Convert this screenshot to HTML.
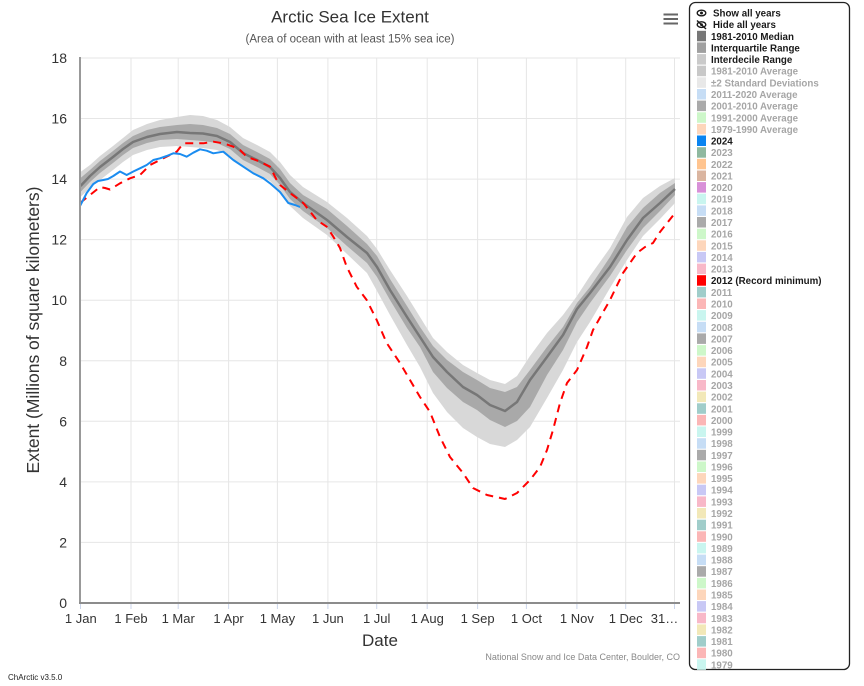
<!DOCTYPE html>
<html>
<head>
<meta charset="utf-8">
<style>
html,body{margin:0;padding:0;background:#fff;}
body{width:864px;height:686px;overflow:hidden;}
svg{display:block;font-family:"Liberation Sans",Arial,sans-serif;}
.lg{font-size:9.75px;font-weight:bold;fill:#a6a6a6;}
.lga{font-size:9.75px;font-weight:bold;fill:#1a1a1a;}
.ax{font-size:14px;fill:#333;}
.xl{font-size:13px;fill:#333;}
</style>
</head>
<body>
<svg width="864" height="686" viewBox="0 0 864 686" xmlns="http://www.w3.org/2000/svg">
<rect x="0" y="0" width="864" height="686" fill="#fff"/>

<!-- horizontal grid -->
<g stroke="#e6e6e6" stroke-width="1">
<line x1="80" y1="58" x2="680" y2="58"/>
<line x1="80" y1="118.5" x2="680" y2="118.5"/>
<line x1="80" y1="179.1" x2="680" y2="179.1"/>
<line x1="80" y1="239.6" x2="680" y2="239.6"/>
<line x1="80" y1="300.2" x2="680" y2="300.2"/>
<line x1="80" y1="360.8" x2="680" y2="360.8"/>
<line x1="80" y1="421.3" x2="680" y2="421.3"/>
<line x1="80" y1="481.9" x2="680" y2="481.9"/>
<line x1="80" y1="542.4" x2="680" y2="542.4"/>
</g>
<!-- vertical grid -->
<g stroke="#e6e6e6" stroke-width="1">
<line x1="131" y1="58" x2="131" y2="603"/>
<line x1="178.2" y1="58" x2="178.2" y2="603"/>
<line x1="228.6" y1="58" x2="228.6" y2="603"/>
<line x1="277.4" y1="58" x2="277.4" y2="603"/>
<line x1="327.9" y1="58" x2="327.9" y2="603"/>
<line x1="376.7" y1="58" x2="376.7" y2="603"/>
<line x1="427.2" y1="58" x2="427.2" y2="603"/>
<line x1="477.6" y1="58" x2="477.6" y2="603"/>
<line x1="526.4" y1="58" x2="526.4" y2="603"/>
<line x1="576.9" y1="58" x2="576.9" y2="603"/>
<line x1="625.7" y1="58" x2="625.7" y2="603"/>
<line x1="674.5" y1="58" x2="674.5" y2="603"/>
</g>

<!-- Interdecile band -->
<polygon fill="#d8d8d8" points="80.5,172 90,165 100,156 113,146 123,138 133,130 147,124 160,120 177,117 190,115 203,116 217,120 230,127 243,138 257,145 270,152 280,162 290,175 303,187 327,202 347,218 367,236 377,249 390,270 407,296 420,317 433,338 447,352 463,365 477,373 490,380 505,384 517,376 530,356 547,333 563,315 577,296 590,276 610,248 627,217 643,198 660,186 675,178 675,203 660,219 643,236 627,260 610,288 590,322 577,342 563,370 547,398 530,427 517,440 505,447 490,444 477,437 463,428 447,412 433,393 420,367 407,345 390,315 377,291 367,273 347,254 327,235 303,218 290,206 280,192 270,181 257,174 243,167 230,156 217,150 203,148 190,147 177,146 160,147 147,150 133,155 123,162 113,170 100,180 90,188 80.5,197"/>
<!-- Interquartile band -->
<polygon fill="#a9a9a9" points="80.5,178 90,170 100,161 113,151 123,143 133,136 147,130 160,127 177,125 190,124 203,125 217,128 230,134 243,145 257,152 270,159 280,169 290,183 303,195 327,209 347,226 367,244 377,256 390,279 407,306 420,327 433,346 447,360 463,372 477,380 490,388 505,392 517,387 530,370 547,347 563,327 577,303 590,287 610,257 627,227 643,208 660,193 675,183 675,195 660,211 643,228 627,250 610,276 590,303 577,322 563,350 547,375 530,407 517,421 505,427 490,420 477,410 463,402 447,388 433,372 420,347 407,328 390,300 377,277 367,263 347,246 327,228 303,211 290,199 280,185 270,174 257,167 243,160 230,149 217,143 203,141 190,140 177,139 160,140 147,143 133,148 123,155 113,163 100,173 90,182 80.5,192"/>
<!-- Median -->
<polyline fill="none" stroke="#777" stroke-width="2.5" stroke-linejoin="round" points="80.5,186 90,176 100,167 113,157 123,149 133,142 147,137 160,134 177,132 190,133 203,133.5 217,136 230,142 243,153 257,160 270,167 280,178 290,192 303,203 327,220 347,237 367,253 377,267 390,290 407,317 420,337 433,357 447,372 463,387 477,395 490,405 505,411 517,402 530,380 547,357 563,335 577,309 590,293 610,267 627,240 643,218 660,203 675,189"/>

<!-- 2012 -->
<polyline fill="none" stroke="#ff0000" stroke-width="2" stroke-dasharray="8 6" stroke-linejoin="round" points="80,203 90,195 100,187 105,188 110,189.5 120,183.3 130,178.3 140,175 150,165 160,160 170,155 176.7,151.7 183.3,143.3 193.3,143.3 203.3,143.3 213.3,141.7 223.3,143.3 233.3,146.7 240,150 246.7,156.7 260,161.7 270,166.7 276.7,180 280,185 290,193 303.3,203 316.7,220 326.7,226.7 333.3,236.7 340,248 346.7,266.7 356.7,286.7 366.7,300 376.7,320 386.7,343 400,363 410,380 420,397 430,412 440,437 450,457 463,473 473,488 487,495 505,499 517,493 530,480 540,467 547,450 553,430 560,403 567,383 577,370 587,347 593,330 610,300 623,273 637,253 645,247 653,243 660,232 675,213"/>
<!-- 2024 -->
<polyline fill="none" stroke="#1a8cf0" stroke-width="2" stroke-linejoin="round" points="80,206 86.7,193 93.3,184 98,181 103.3,180 108,179 113.3,176 120,171.5 126.7,175 133.3,171.5 140,168.3 146.7,165 153.3,160 160,158.3 166.7,156 173.3,153.3 180,154 186.7,156.7 193.3,152.7 200,149.3 206.7,150.7 213.3,153.3 223.3,151.7 233.3,160 243.3,166.7 253.3,173.3 263.3,178.3 270,183.3 280,192 288.3,203 295,205 300,207"/>

<!-- axes -->
<line x1="80" y1="57" x2="80" y2="604" stroke="#999" stroke-width="2"/>
<line x1="79" y1="603" x2="680" y2="603" stroke="#8c8c8c" stroke-width="2"/>
<g stroke="#ccd6eb" stroke-width="1">
<line x1="80.5" y1="604" x2="80.5" y2="609"/>
<line x1="131" y1="604" x2="131" y2="609"/>
<line x1="178.2" y1="604" x2="178.2" y2="609"/>
<line x1="228.6" y1="604" x2="228.6" y2="609"/>
<line x1="277.4" y1="604" x2="277.4" y2="609"/>
<line x1="327.9" y1="604" x2="327.9" y2="609"/>
<line x1="376.7" y1="604" x2="376.7" y2="609"/>
<line x1="427.2" y1="604" x2="427.2" y2="609"/>
<line x1="477.6" y1="604" x2="477.6" y2="609"/>
<line x1="526.4" y1="604" x2="526.4" y2="609"/>
<line x1="576.9" y1="604" x2="576.9" y2="609"/>
<line x1="625.7" y1="604" x2="625.7" y2="609"/>
<line x1="674.5" y1="604" x2="674.5" y2="609"/>
</g>

<!-- y labels -->
<g class="ax" text-anchor="end">
<text x="67" y="63">18</text>
<text x="67" y="123.5">16</text>
<text x="67" y="184.1">14</text>
<text x="67" y="244.6">12</text>
<text x="67" y="305.2">10</text>
<text x="67" y="365.8">8</text>
<text x="67" y="426.3">6</text>
<text x="67" y="486.9">4</text>
<text x="67" y="547.4">2</text>
<text x="67" y="608">0</text>
</g>
<!-- x labels -->
<g class="xl" text-anchor="middle">
<text x="80.8" y="623">1 Jan</text>
<text x="131" y="623">1 Feb</text>
<text x="178.2" y="623">1 Mar</text>
<text x="228.6" y="623">1 Apr</text>
<text x="277.4" y="623">1 May</text>
<text x="327.9" y="623">1 Jun</text>
<text x="376.7" y="623">1 Jul</text>
<text x="427.2" y="623">1 Aug</text>
<text x="477.6" y="623">1 Sep</text>
<text x="526.4" y="623">1 Oct</text>
<text x="576.9" y="623">1 Nov</text>
<text x="625.7" y="623">1 Dec</text>
<text x="664.5" y="623">31…</text>
</g>

<!-- titles -->
<text x="350" y="22.5" text-anchor="middle" font-size="17" fill="#333">Arctic Sea Ice Extent</text>
<text x="350" y="42.5" text-anchor="middle" font-size="11.5" fill="#555">(Area of ocean with at least 15% sea ice)</text>
<text x="380" y="646" text-anchor="middle" font-size="17" fill="#333">Date</text>
<text transform="translate(39,330) rotate(-90)" text-anchor="middle" font-size="17.5" fill="#333">Extent (Millions of square kilometers)</text>
<text x="680" y="660" text-anchor="end" font-size="9" fill="#888">National Snow and Ice Data Center, Boulder, CO</text>
<text x="8" y="680" font-size="8" fill="#222">ChArctic v3.5.0</text>

<!-- hamburger -->
<g stroke="#666" stroke-width="2">
<line x1="663.5" y1="14.5" x2="678" y2="14.5"/>
<line x1="663.5" y1="19" x2="678" y2="19"/>
<line x1="663.5" y1="23.5" x2="678" y2="23.5"/>
</g>

<!-- legend box -->
<rect x="689.5" y="2.5" width="160" height="667" rx="6" ry="6" fill="#fff" stroke="#222" stroke-width="1.3"/>

<!-- eye icons -->
<ellipse cx="701.5" cy="13" rx="4.3" ry="2.8" fill="none" stroke="#1a1a1a" stroke-width="1.4"/>
<circle cx="701.5" cy="13" r="1.5" fill="#1a1a1a"/>
<ellipse cx="701.5" cy="24.6" rx="4.3" ry="2.8" fill="none" stroke="#1a1a1a" stroke-width="1.4"/>
<circle cx="701.5" cy="24.6" r="1.4" fill="#1a1a1a"/>
<line x1="697" y1="20.5" x2="706" y2="29" stroke="#1a1a1a" stroke-width="1.4"/>
<text class="lga" x="713" y="16.5">Show all years</text>
<text class="lga" x="713" y="28.1">Hide all years</text>

<!-- legend swatches -->
<g>
<rect x="697" y="30.8" width="9" height="10.5" fill="#777777"/>
<rect x="697" y="42.4" width="9" height="10.5" fill="#a0a0a0"/>
<rect x="697" y="54.1" width="9" height="10.5" fill="#cacaca"/>
<rect x="697" y="65.7" width="9" height="10.5" fill="#c8c8c8"/>
<rect x="697" y="77.3" width="9" height="10.5" fill="#e8e8e8"/>
<rect x="697" y="89" width="9" height="10.5" fill="#c6ddf5"/>
<rect x="697" y="100.6" width="9" height="10.5" fill="#aaaaaa"/>
<rect x="697" y="112.3" width="9" height="10.5" fill="#cdf7c9"/>
<rect x="697" y="123.9" width="9" height="10.5" fill="#fdd6bb"/>
<rect x="697" y="135.5" width="9" height="10.5" fill="#0a84f0"/>
<rect x="697" y="147.2" width="9" height="10.5" fill="#8fb89f"/>
<rect x="697" y="158.8" width="9" height="10.5" fill="#ffc48f"/>
<rect x="697" y="170.5" width="9" height="10.5" fill="#dab5a0"/>
<rect x="697" y="182.1" width="9" height="10.5" fill="#d890d8"/>
<rect x="697" y="193.7" width="9" height="10.5" fill="#c9f5ef"/>
<rect x="697" y="205.4" width="9" height="10.5" fill="#c6ddf5"/>
<rect x="697" y="217" width="9" height="10.5" fill="#aaaaaa"/>
<rect x="697" y="228.7" width="9" height="10.5" fill="#cdf7c9"/>
<rect x="697" y="240.3" width="9" height="10.5" fill="#fdd6bb"/>
<rect x="697" y="251.9" width="9" height="10.5" fill="#c8c8f5"/>
<rect x="697" y="263.6" width="9" height="10.5" fill="#f8b8c8"/>
<rect x="697" y="275.2" width="9" height="10.5" fill="#ff0000"/>
<rect x="697" y="286.9" width="9" height="10.5" fill="#a0cdca"/>
<rect x="697" y="298.5" width="9" height="10.5" fill="#fbb6b6"/>
<rect x="697" y="310.1" width="9" height="10.5" fill="#c9f5ef"/>
<rect x="697" y="321.8" width="9" height="10.5" fill="#c6ddf5"/>
<rect x="697" y="333.4" width="9" height="10.5" fill="#aaaaaa"/>
<rect x="697" y="345.1" width="9" height="10.5" fill="#cdf7c9"/>
<rect x="697" y="356.7" width="9" height="10.5" fill="#fdd6bb"/>
<rect x="697" y="368.3" width="9" height="10.5" fill="#c8c8f5"/>
<rect x="697" y="380" width="9" height="10.5" fill="#f8b8c8"/>
<rect x="697" y="391.6" width="9" height="10.5" fill="#f2e8b8"/>
<rect x="697" y="403.3" width="9" height="10.5" fill="#a0cdca"/>
<rect x="697" y="414.9" width="9" height="10.5" fill="#fbb6b6"/>
<rect x="697" y="426.5" width="9" height="10.5" fill="#c9f5ef"/>
<rect x="697" y="438.2" width="9" height="10.5" fill="#c6ddf5"/>
<rect x="697" y="449.8" width="9" height="10.5" fill="#aaaaaa"/>
<rect x="697" y="461.5" width="9" height="10.5" fill="#cdf7c9"/>
<rect x="697" y="473.1" width="9" height="10.5" fill="#fdd6bb"/>
<rect x="697" y="484.7" width="9" height="10.5" fill="#c8c8f5"/>
<rect x="697" y="496.4" width="9" height="10.5" fill="#f8b8c8"/>
<rect x="697" y="508" width="9" height="10.5" fill="#f2e8b8"/>
<rect x="697" y="519.7" width="9" height="10.5" fill="#a0cdca"/>
<rect x="697" y="531.3" width="9" height="10.5" fill="#fbb6b6"/>
<rect x="697" y="542.9" width="9" height="10.5" fill="#c9f5ef"/>
<rect x="697" y="554.6" width="9" height="10.5" fill="#c6ddf5"/>
<rect x="697" y="566.2" width="9" height="10.5" fill="#aaaaaa"/>
<rect x="697" y="577.9" width="9" height="10.5" fill="#cdf7c9"/>
<rect x="697" y="589.5" width="9" height="10.5" fill="#fdd6bb"/>
<rect x="697" y="601.1" width="9" height="10.5" fill="#c8c8f5"/>
<rect x="697" y="612.8" width="9" height="10.5" fill="#f8b8c8"/>
<rect x="697" y="624.4" width="9" height="10.5" fill="#f2e8b8"/>
<rect x="697" y="636.1" width="9" height="10.5" fill="#a0cdca"/>
<rect x="697" y="647.7" width="9" height="10.5" fill="#fbb6b6"/>
<rect x="697" y="659.3" width="9" height="10.5" fill="#c9f5ef"/>
</g>

<!-- legend labels -->
<g>
<text class="lga" x="711" y="39.8">1981-2010 Median</text>
<text class="lga" x="711" y="51.4">Interquartile Range</text>
<text class="lga" x="711" y="63.1">Interdecile Range</text>
<text class="lg" x="711" y="74.7">1981-2010 Average</text>
<text class="lg" x="711" y="86.3">±2 Standard Deviations</text>
<text class="lg" x="711" y="98">2011-2020 Average</text>
<text class="lg" x="711" y="109.6">2001-2010 Average</text>
<text class="lg" x="711" y="121.3">1991-2000 Average</text>
<text class="lg" x="711" y="132.9">1979-1990 Average</text>
<text class="lga" x="711" y="144.5">2024</text>
<text class="lg" x="711" y="156.2">2023</text>
<text class="lg" x="711" y="167.8">2022</text>
<text class="lg" x="711" y="179.5">2021</text>
<text class="lg" x="711" y="191.1">2020</text>
<text class="lg" x="711" y="202.7">2019</text>
<text class="lg" x="711" y="214.4">2018</text>
<text class="lg" x="711" y="226">2017</text>
<text class="lg" x="711" y="237.7">2016</text>
<text class="lg" x="711" y="249.3">2015</text>
<text class="lg" x="711" y="260.9">2014</text>
<text class="lg" x="711" y="272.6">2013</text>
<text class="lga" x="711" y="284.2">2012 (Record minimum)</text>
<text class="lg" x="711" y="295.9">2011</text>
<text class="lg" x="711" y="307.5">2010</text>
<text class="lg" x="711" y="319.1">2009</text>
<text class="lg" x="711" y="330.8">2008</text>
<text class="lg" x="711" y="342.4">2007</text>
<text class="lg" x="711" y="354.1">2006</text>
<text class="lg" x="711" y="365.7">2005</text>
<text class="lg" x="711" y="377.3">2004</text>
<text class="lg" x="711" y="389">2003</text>
<text class="lg" x="711" y="400.6">2002</text>
<text class="lg" x="711" y="412.3">2001</text>
<text class="lg" x="711" y="423.9">2000</text>
<text class="lg" x="711" y="435.5">1999</text>
<text class="lg" x="711" y="447.2">1998</text>
<text class="lg" x="711" y="458.8">1997</text>
<text class="lg" x="711" y="470.5">1996</text>
<text class="lg" x="711" y="482.1">1995</text>
<text class="lg" x="711" y="493.7">1994</text>
<text class="lg" x="711" y="505.4">1993</text>
<text class="lg" x="711" y="517">1992</text>
<text class="lg" x="711" y="528.7">1991</text>
<text class="lg" x="711" y="540.3">1990</text>
<text class="lg" x="711" y="551.9">1989</text>
<text class="lg" x="711" y="563.6">1988</text>
<text class="lg" x="711" y="575.2">1987</text>
<text class="lg" x="711" y="586.9">1986</text>
<text class="lg" x="711" y="598.5">1985</text>
<text class="lg" x="711" y="610.1">1984</text>
<text class="lg" x="711" y="621.8">1983</text>
<text class="lg" x="711" y="633.4">1982</text>
<text class="lg" x="711" y="645.1">1981</text>
<text class="lg" x="711" y="656.7">1980</text>
<text class="lg" x="711" y="668.3">1979</text>
</g>
</svg>
</body>
</html>
